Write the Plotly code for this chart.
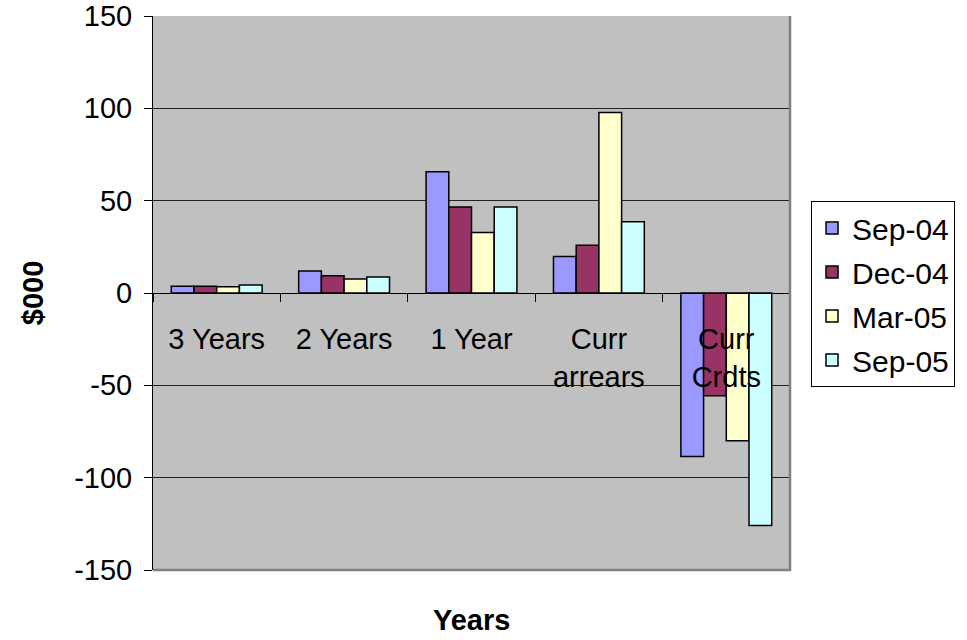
import plotly.graph_objects as go

# Categories, series and values ($000)
categories = ["3 Years", "2 Years", "1 Year", "Curr<br>arrears", "Curr<br>Crdts"]
series_names = ["Sep-04", "Dec-04", "Mar-05", "Sep-05"]
sep_04 = [3.6, 11.9, 65.7, 19.8, -88.5]
dec_04 = [3.6, 9.4, 46.6, 25.8, -55.6]
mar_05 = [3.4, 7.6, 32.8, 97.8, -80.0]
sep_05 = [4.3, 8.7, 46.6, 38.6, -125.9]
y_ticks = [-150, -100, -50, 0, 50, 100, 150]
y_tick_labels = ["-150", "-100", "-50", "0", "50", "100", "150"]

series_values = [sep_04, dec_04, mar_05, sep_05]
colors = ["#9999FF", "#993366", "#FFFFCC", "#CCFFFF"]

FONT = "Liberation Sans, Arial, sans-serif"

fig = go.Figure()
for name, vals, col in zip(series_names, series_values, colors):
    fig.add_trace(go.Bar(
        x=categories, y=vals, name=name, legendgroup=name,
        marker=dict(color=col, line=dict(color="black", width=1.5)),
    ))

fig.update_layout(
    width=967, height=640,
    margin=dict(l=153, r=177, t=16, b=70, autoexpand=False),
    paper_bgcolor="white",
    plot_bgcolor="#C0C0C0",
    barmode="group",
    bargap=0.287,
    bargroupgap=0,
    font=dict(family=FONT, size=30, color="black"),
    showlegend=True,
    legend=dict(
        x=1.033, y=0.666, xanchor="left", yanchor="top",
        bgcolor="white", bordercolor="black", borderwidth=1,
        font=dict(family=FONT, size=30, color="black"),
        tracegroupgap=2,
    ),
    xaxis=dict(
        type="category",
        anchor="free", position=0.5,
        automargin=False,
        showline=True, linecolor="black", linewidth=1,
        ticks="outside", ticklen=8, tickcolor="black", tickwidth=1,
        tickson="boundaries",
        showgrid=False, zeroline=False,
        tickfont=dict(family=FONT, size=29, color="black"),
        ticklabelstandoff=20,
    ),
    yaxis=dict(
        range=[-150, 150],
        automargin=False,
        tickvals=y_ticks, ticktext=y_tick_labels,
        showline=True, linecolor="black", linewidth=1,
        ticks="outside", ticklen=8, tickcolor="black", tickwidth=1,
        showgrid=True, gridcolor="#222222", gridwidth=1,
        zeroline=False,
        tickfont=dict(family=FONT, size=29, color="black"),
        ticklabelstandoff=6,
    ),
    shapes=[
        # plot-area frame on the bottom and right sides
        dict(type="path", xref="paper", yref="paper",
             path="M 0,0 L 1,0 L 1,1",
             line=dict(color="#808080", width=2.5), layer="above"),
    ],
    annotations=[
        dict(text="<b>Years</b>", xref="paper", yref="paper",
             x=0.5, y=-0.09, xanchor="center", yanchor="middle",
             showarrow=False, font=dict(family=FONT, size=29, color="black")),
        dict(text="<b>$000</b>", xref="paper", yref="paper",
             x=-0.188, y=0.5, xanchor="center", yanchor="middle",
             textangle=-90, showarrow=False,
             font=dict(family=FONT, size=29, color="black")),
    ],
)

fig.write_html("out.html")
